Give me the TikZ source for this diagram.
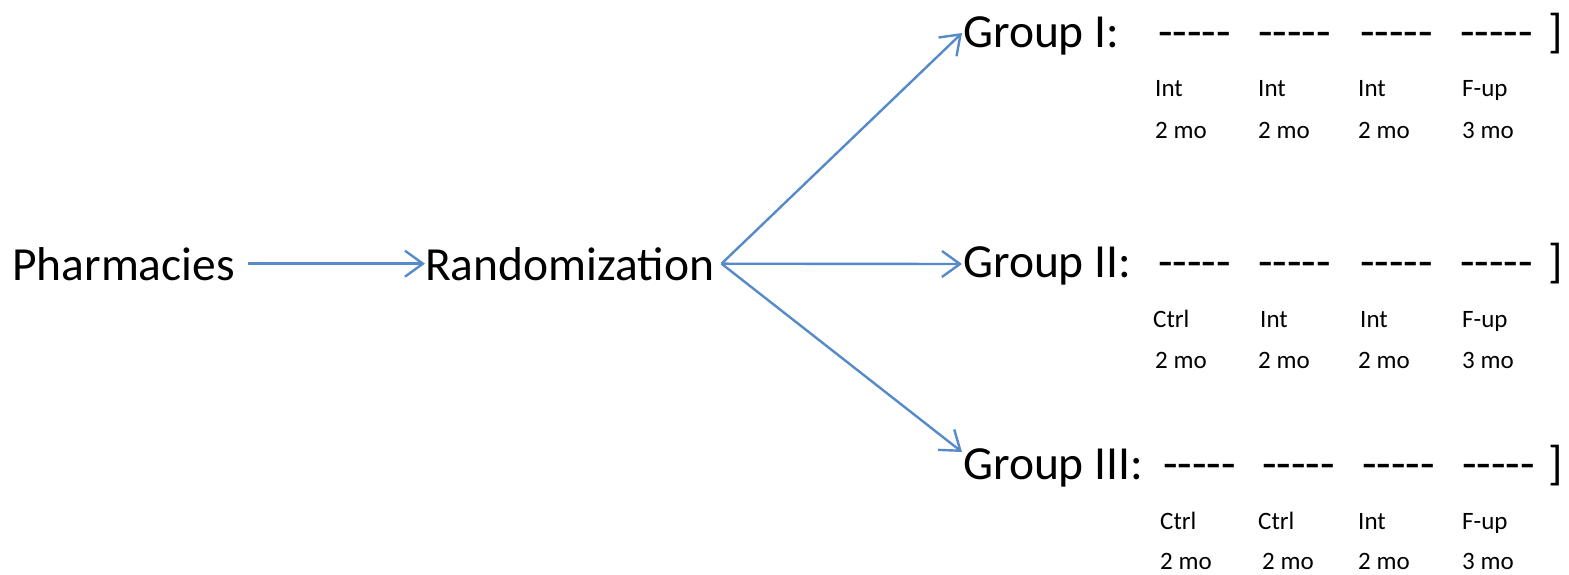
\documentclass[tikz,border=0pt]{standalone}
\usepackage{fontspec}
\setmainfont{Carlito}
\usetikzlibrary{arrows.meta, positioning}
\definecolor{linkblue}{RGB}{86,138,200}
\newcommand{\dashrow}{-{}-{}-{}-{}-}

\begin{document}
\begin{tikzpicture}[x=1pt, y=-1pt, every node/.style={inner sep=0pt, anchor=base west, font=\fontsize{47.5}{50}\selectfont}, lbl/.style={font=\fontsize{25}{27}\selectfont}, link/.style={draw=linkblue, line width=2.4pt, -{Straight Barb[length=18pt, width=26pt, line width=2.4pt]}}]
                \useasboundingbox (0,0) rectangle (1569,574);
                \node(pharm) at (12,280){Pharmacies};
                \node(rand) at (425,280){Randomization};
                \coordinate[right=13pt of pharm.east](pharmx);
                \coordinate[right=7pt of rand.east](fork);
                \node(g1) at (963,47){Group I:};
                \node(g2) at (963,277){Group II:};
                \node(g3) at (963,479){Group III:};
                \coordinate(g1tip) at (962,33);
                \coordinate(g2tip) at (962,264);
                \coordinate(g3tip) at (962,452);
                \draw[link] (pharmx) -- (rand.west);
                \draw[link] (fork) -- (g1tip);
                \draw[link] (fork) -- (g2tip);
                \draw[link] (fork) -- (g3tip);
                % dashes and closing brackets
                \node(d11) at (1158,47){\dashrow};
                \node(d12) at (1258,47){\dashrow};
                \node(d13) at (1360,47){\dashrow};
                \node(d14) at (1460,47){\dashrow};
                \node(b1) at (1548,47){]};
                \node(d21) at (1158,277){\dashrow};
                \node(d22) at (1258,277){\dashrow};
                \node(d23) at (1360,277){\dashrow};
                \node(d24) at (1460,277){\dashrow};
                \node(b2) at (1548,277){]};
                \node(d31) at (1163,479){\dashrow};
                \node(d32) at (1262,479){\dashrow};
                \node(d33) at (1362,479){\dashrow};
                \node(d34) at (1462,479){\dashrow};
                \node(b3) at (1548,479){]};
                % group I labels
                \node[lbl](a11) at (1155,96){Int};
                \node[lbl](a12) at (1258,96){Int};
                \node[lbl](a13) at (1358,96){Int};
                \node[lbl](a14) at (1462,96){F-up};
                \node[lbl](m11) at (1155,138){2 mo};
                \node[lbl](m12) at (1258,138){2 mo};
                \node[lbl](m13) at (1358,138){2 mo};
                \node[lbl](m14) at (1462,138){3 mo};
                % group II labels
                \node[lbl](a21) at (1153,327){Ctrl};
                \node[lbl](a22) at (1260,327){Int};
                \node[lbl](a23) at (1360,327){Int};
                \node[lbl](a24) at (1462,327){F-up};
                \node[lbl](m21) at (1155,368){2 mo};
                \node[lbl](m22) at (1258,368){2 mo};
                \node[lbl](m23) at (1358,368){2 mo};
                \node[lbl](m24) at (1462,368){3 mo};
                % group III labels
                \node[lbl](a31) at (1160,529){Ctrl};
                \node[lbl](a32) at (1258,529){Ctrl};
                \node[lbl](a33) at (1358,529){Int};
                \node[lbl](a34) at (1462,529){F-up};
                \node[lbl](m31) at (1160,569){2 mo};
                \node[lbl](m32) at (1262,569){2 mo};
                \node[lbl](m33) at (1358,569){2 mo};
                \node[lbl](m34) at (1462,569){3 mo};
            \end{tikzpicture}
\end{document}
